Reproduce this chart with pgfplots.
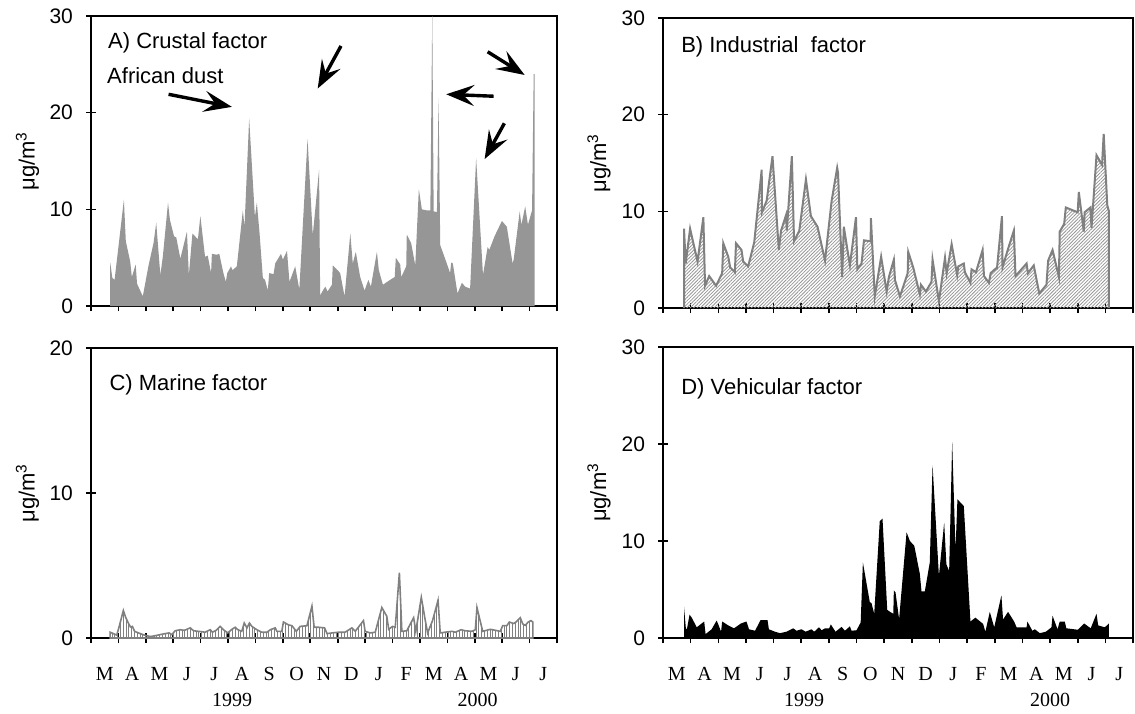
\documentclass[border=0pt]{standalone}
\usepackage{fontspec}
\setmainfont{Liberation Sans}
\newfontfamily\timesf{Liberation Serif}
\usepackage{pgfplots}
\pgfplotsset{compat=1.18}
\usetikzlibrary{arrows.meta,patterns.meta}
\definecolor{afill}{RGB}{150,150,150}
\definecolor{gline}{RGB}{128,128,128}
\definecolor{bhatch}{RGB}{150,150,150}

\tikzset{
  panellab/.style={font=\fontsize{11}{13}\selectfont, anchor=west, inner xsep=0pt},
  dustarrow/.style={line width=1.7pt, -{Stealth[length=14pt,width=10.5pt,inset=5.5pt]}},
  yearlab/.style={font=\timesf\fontsize{10}{12}\selectfont},
}
\pgfplotsset{
  myax/.style={
    scale only axis,
    xmin=0,xmax=17,
    xtick={0,...,17},
    xticklabels={},
    axis line style={line width=0.9pt},
    every tick/.style={line width=0.8pt,black},
    tick align=center,
    major tick length=5pt,
    xtick pos=bottom, ytick pos=left,
    /pgf/number format/assume math mode=true,
    yticklabel style={font=\fontsize{10.5}{12}\selectfont, xshift=-3pt},
    ylabel={μg/m\textsuperscript{3}},
    ylabel style={font=\fontsize{11}{12}\selectfont, at={(axis description cs:-0.136,0.5)}, anchor=center},
    clip mode=individual,
  },
  months/.style={
    extra x ticks={0.5,1.5,...,16.5},
    extra x tick labels={M,A,M,J,J,A,S,O,N,D,J,F,M,A,M,J,J},
    extra x tick style={major tick length=0pt, tick label style={font=\timesf\fontsize{10}{12}\selectfont, yshift=-11pt}},
  },
}

\begin{document}
\begin{tikzpicture}
\useasboundingbox (0,0) rectangle (567.5pt,-356.5pt);

% ---------------- A ----------------
\begin{axis}[myax, at={(45.5pt,-8pt)}, anchor=north west, width=233pt, height=145pt,
  ymin=0, ymax=30, ytick={0,10,20,30}]
\addplot[fill=afill, draw=none] coordinates {
(0.70,4.5)(0.78,2.9)(0.86,2.7)(1.00,6.1)(1.20,11.0)(1.27,6.7)(1.43,4.6)(1.49,3.0)(1.63,4.3)(1.68,2.3)(1.89,1.0)(2.10,4.2)(2.28,6.5)(2.38,8.6)(2.53,3.2)(2.62,5.1)(2.81,10.7)(2.88,8.9)(3.03,7.2)(3.11,7.1)(3.26,4.9)(3.50,7.7)(3.57,3.2)(3.70,7.5)(3.90,6.9)(3.99,9.3)(4.16,5.1)(4.26,5.2)(4.38,3.4)(4.41,5.4)(4.58,5.3)(4.68,5.4)(4.83,3.4)(4.92,2.5)(4.97,3.4)(5.11,4.1)(5.16,3.7)(5.32,4.1)(5.54,9.9)(5.60,8.2)(5.77,19.4)(5.98,9.2)(6.05,10.7)(6.15,7.5)(6.27,2.9)(6.35,2.7)(6.45,1.6)(6.50,3.4)(6.66,3.3)(6.72,4.4)(6.93,5.4)(7.00,4.8)(7.15,5.7)(7.24,2.5)(7.45,4.1)(7.60,1.7)(7.90,17.3)(8.09,7.3)(8.32,14.1)(8.36,1.1)(8.48,1.7)(8.55,2.0)(8.63,1.5)(8.79,2.2)(8.82,4.2)(9.03,3.6)(9.09,3.4)(9.25,1.0)(9.46,7.5)(9.55,4.4)(9.66,5.6)(9.82,3.0)(9.98,1.6)(10.12,2.7)(10.21,2.0)(10.43,5.6)(10.50,3.7)(10.65,2.2)(10.91,2.7)(11.08,3.0)(11.12,5.0)(11.28,4.3)(11.32,3.0)(11.50,4.1)(11.52,7.4)(11.68,6.5)(11.83,4.2)(11.96,12.1)(12.07,10.0)(12.23,9.9)(12.38,9.9)(12.45,30.5)(12.50,9.8)(12.62,9.7)(12.68,21.5)(12.74,6.3)(12.98,4.4)(13.10,3.4)(13.14,4.5)(13.20,4.4)(13.37,1.3)(13.53,2.4)(13.65,2.0)(13.83,1.8)(14.05,15.3)(14.30,3.2)(14.47,6.1)(14.53,5.8)(14.72,7.2)(14.99,8.8)(15.17,8.2)(15.38,4.4)(15.42,4.8)(15.64,9.8)(15.70,8.4)(15.84,10.3)(15.94,8.4)(16.09,9.9)(16.15,24.0)(16.18,24.0)
} \closedcycle;
\node[panellab] at (axis description cs:0.036,0.907) {A) Crustal factor};
\node[panellab] at (axis description cs:0.034,0.793) {African dust};
\draw[dustarrow] (axis cs:2.83,21.9) -- (axis cs:5.14,20.6);
\draw[dustarrow] (axis cs:9.12,26.9) -- (axis cs:8.27,22.5);
\draw[dustarrow] (axis cs:14.69,21.7) -- (axis cs:12.96,21.9);
\draw[dustarrow] (axis cs:14.47,26.3) -- (axis cs:15.82,23.9);
\draw[dustarrow] (axis cs:15.08,18.9) -- (axis cs:14.36,15.2);
\end{axis}

% ---------------- B ----------------
\begin{axis}[myax, at={(331.5pt,-9pt)}, anchor=north west, width=235pt, height=145pt,
  ymin=0, ymax=30, ytick={0,10,20,30}]
\addplot[draw=none, pattern={Lines[angle=45,distance=1.2pt,line width=0.4pt]}, pattern color=bhatch] coordinates {
(0.76,8.2)(0.82,4.6)(0.98,8.2)(1.25,4.8)(1.46,9.4)(1.52,2.3)(1.67,3.3)(1.92,2.3)(2.14,3.6)(2.18,6.7)(2.36,5.3)(2.43,4.2)(2.60,3.7)(2.64,6.7)(2.84,6.0)(2.90,4.8)(3.08,4.3)(3.30,6.8)(3.57,14.3)(3.58,9.9)(3.75,11.1)(3.96,15.7)(4.19,6.0)(4.27,8.0)(4.45,9.6)(4.48,8.0)(4.66,15.7)(4.74,6.9)(4.93,8.0)(5.17,13.3)(5.35,9.5)(5.59,8.4)(5.86,4.9)(6.10,11.1)(6.30,14.5)(6.33,14.0)(6.48,3.2)(6.54,8.4)(6.76,4.4)(6.98,9.4)(7.03,4.0)(7.18,4.6)(7.27,7.0)(7.51,6.9)(7.52,9.3)(7.66,1.2)(7.89,5.3)(8.09,1.7)(8.17,3.2)(8.35,5.0)(8.39,2.9)(8.57,1.2)(8.85,3.6)(8.87,5.8)(9.05,4.2)(9.29,1.4)(9.33,2.4)(9.51,1.7)(9.71,2.7)(9.75,5.0)(9.98,0.7)(10.20,5.2)(10.26,3.6)(10.44,6.6)(10.64,3.4)(10.68,4.3)(10.88,4.6)(10.92,3.7)(11.12,2.6)(11.16,4.0)(11.32,3.7)(11.56,6.0)(11.61,3.3)(11.79,2.6)(11.85,3.6)(12.04,4.1)(12.08,4.1)(12.26,9.5)(12.28,4.2)(12.49,6.2)(12.69,8.0)(12.75,3.3)(13.15,4.6)(13.20,3.6)(13.41,4.4)(13.61,1.5)(13.87,2.4)(13.93,4.9)(14.09,6.0)(14.32,3.2)(14.35,7.9)(14.51,8.7)(14.57,10.4)(15.00,9.9)(15.04,12.0)(15.22,7.9)(15.25,9.9)(15.46,10.4)(15.50,8.3)(15.68,15.8)(15.88,14.8)(15.94,18.0)(16.07,10.6)(16.13,10.0)
} \closedcycle;
\addplot[draw=gline, line width=1pt] coordinates {
(0.76,0)(0.76,8.2)(0.82,4.6)(0.98,8.2)(1.25,4.8)(1.46,9.4)(1.52,2.3)(1.67,3.3)(1.92,2.3)(2.14,3.6)(2.18,6.7)(2.36,5.3)(2.43,4.2)(2.60,3.7)(2.64,6.7)(2.84,6.0)(2.90,4.8)(3.08,4.3)(3.30,6.8)(3.57,14.3)(3.58,9.9)(3.75,11.1)(3.96,15.7)(4.19,6.0)(4.27,8.0)(4.45,9.6)(4.48,8.0)(4.66,15.7)(4.74,6.9)(4.93,8.0)(5.17,13.3)(5.35,9.5)(5.59,8.4)(5.86,4.9)(6.10,11.1)(6.30,14.5)(6.33,14.0)(6.48,3.2)(6.54,8.4)(6.76,4.4)(6.98,9.4)(7.03,4.0)(7.18,4.6)(7.27,7.0)(7.51,6.9)(7.52,9.3)(7.66,1.2)(7.89,5.3)(8.09,1.7)(8.17,3.2)(8.35,5.0)(8.39,2.9)(8.57,1.2)(8.85,3.6)(8.87,5.8)(9.05,4.2)(9.29,1.4)(9.33,2.4)(9.51,1.7)(9.71,2.7)(9.75,5.0)(9.98,0.7)(10.20,5.2)(10.26,3.6)(10.44,6.6)(10.64,3.4)(10.68,4.3)(10.88,4.6)(10.92,3.7)(11.12,2.6)(11.16,4.0)(11.32,3.7)(11.56,6.0)(11.61,3.3)(11.79,2.6)(11.85,3.6)(12.04,4.1)(12.08,4.1)(12.26,9.5)(12.28,4.2)(12.49,6.2)(12.69,8.0)(12.75,3.3)(13.15,4.6)(13.20,3.6)(13.41,4.4)(13.61,1.5)(13.87,2.4)(13.93,4.9)(14.09,6.0)(14.32,3.2)(14.35,7.9)(14.51,8.7)(14.57,10.4)(15.00,9.9)(15.04,12.0)(15.22,7.9)(15.25,9.9)(15.46,10.4)(15.50,8.3)(15.68,15.8)(15.88,14.8)(15.94,18.0)(16.07,10.6)(16.13,10.0)(16.13,0)
};
\node[panellab] at (axis description cs:0.038,0.90) {B) Industrial\ \ factor};
\end{axis}

% ---------------- C ----------------
\begin{axis}[myax, months, at={(45.5pt,-174pt)}, anchor=north west, width=233pt, height=145pt,
  ymin=0, ymax=20, ytick={0,10,20}]
\addplot[draw=gline, line width=0.8pt, pattern={Lines[angle=90,distance=1.4pt,line width=0.5pt]}, pattern color=gline] coordinates {
(0.70,0.4)(0.82,0.3)(0.94,0.2)(1.03,0.8)(1.18,1.9)(1.27,1.4)(1.37,1.0)(1.44,0.76)(1.51,0.8)(1.59,0.46)(1.73,0.35)(1.95,0.2)(2.16,0.1)(2.34,0.16)(2.64,0.28)(2.85,0.35)(2.95,0.23)(3.07,0.5)(3.25,0.57)(3.41,0.53)(3.62,0.7)(3.74,0.5)(3.92,0.46)(4.16,0.4)(4.35,0.57)(4.43,0.4)(4.57,0.53)(4.71,0.8)(4.83,0.57)(4.99,0.35)(5.14,0.6)(5.26,0.74)(5.36,0.57)(5.50,0.46)(5.59,1.03)(5.69,0.7)(5.78,1.03)(5.87,0.8)(6.05,0.57)(6.23,0.4)(6.42,0.4)(6.54,0.57)(6.72,0.7)(6.78,0.46)(6.96,0.46)(7.02,1.1)(7.21,0.9)(7.33,0.85)(7.49,0.46)(7.63,0.8)(7.88,0.85)(8.06,2.2)(8.14,0.74)(8.30,0.74)(8.52,0.7)(8.61,0.3)(8.79,0.35)(9.03,0.4)(9.27,0.4)(9.52,0.7)(9.64,0.46)(9.94,1.2)(10.00,0.46)(10.19,0.35)(10.37,0.4)(10.61,2.1)(10.79,1.5)(10.86,0.6)(11.00,0.8)(11.10,0.74)(11.25,4.5)(11.34,0.46)(11.52,0.5)(11.77,1.4)(11.85,0.46)(12.05,2.8)(12.19,1.26)(12.28,0.35)(12.46,1.2)(12.66,2.6)(12.74,0.35)(12.92,0.4)(13.17,0.46)(13.29,0.4)(13.50,0.57)(13.65,0.5)(13.90,0.46)(14.02,0.57)(14.08,2.1)(14.29,0.46)(14.57,0.6)(14.93,0.46)(15.02,0.85)(15.17,0.85)(15.26,1.1)(15.42,1.0)(15.50,1.1)(15.66,1.4)(15.75,0.97)(15.84,0.87)(15.95,1.1)(16.05,1.2)(16.12,1.1)
} \closedcycle;
\node[panellab] at (axis description cs:0.039,0.872) {C) Marine factor};
\node[yearlab] at (axis cs:5.15,0) [yshift=-30.8pt] {1999};
\node[yearlab] at (axis cs:14.1,0) [yshift=-30.8pt] {2000};
\end{axis}

% ---------------- D ----------------
\begin{axis}[myax, months, at={(331.5pt,-173.5pt)}, anchor=north west, width=235pt, height=145.5pt,
  ymin=0, ymax=30, ytick={0,10,20,30}]
\addplot[fill=black, draw=none] coordinates {
(0.76,3.2)(0.83,0.9)(0.87,1.0)(0.96,2.4)(1.04,2.1)(1.22,1.1)(1.49,1.7)(1.54,0.4)(1.76,0.9)(1.94,1.8)(2.00,1.4)(2.10,0.65)(2.14,1.7)(2.36,1.3)(2.57,1.0)(2.82,1.5)(3.02,1.7)(3.11,0.9)(3.33,0.75)(3.53,1.85)(3.78,1.85)(3.83,0.9)(4.05,0.65)(4.23,0.5)(4.47,0.65)(4.71,1.0)(4.83,0.75)(5.01,0.9)(5.16,0.65)(5.37,0.9)(5.47,0.65)(5.64,1.1)(5.74,0.8)(5.86,1.0)(6.01,1.0)(6.07,1.4)(6.24,0.65)(6.46,1.15)(6.58,0.75)(6.76,1.2)(6.82,0.75)(7.00,0.8)(7.15,1.6)(7.23,7.8)(7.48,3.7)(7.54,3.6)(7.64,2.5)(7.84,12.05)(7.94,12.3)(8.11,2.9)(8.21,2.7)(8.33,2.5)(8.35,4.9)(8.41,4.7)(8.54,1.95)(8.81,10.9)(8.93,10.0)(9.09,9.5)(9.29,6.6)(9.35,4.8)(9.47,4.8)(9.65,7.8)(9.75,17.8)(9.98,6.4)(10.17,11.9)(10.25,7.6)(10.35,6.9)(10.46,20.2)(10.58,9.1)(10.65,14.3)(10.88,13.6)(11.12,1.7)(11.30,2.1)(11.58,1.45)(11.66,0.65)(11.82,2.7)(11.98,1.1)(12.24,4.4)(12.30,1.9)(12.48,2.7)(12.70,1.7)(12.79,1.1)(13.15,1.1)(13.18,1.7)(13.36,0.75)(13.45,0.9)(13.63,0.5)(13.85,0.65)(14.05,1.1)(14.09,2.3)(14.27,0.9)(14.35,1.7)(14.53,1.7)(14.59,1.0)(15.01,0.85)(15.23,1.5)(15.47,1.0)(15.68,2.5)(15.74,1.3)(15.98,1.1)(16.13,1.5)
} \closedcycle;
\node[panellab] at (axis description cs:0.038,0.856) {D) Vehicular factor};
\node[yearlab] at (axis cs:5.1,0) [yshift=-30.8pt] {1999};
\node[yearlab] at (axis cs:14.0,0) [yshift=-30.8pt] {2000};
\end{axis}
\end{tikzpicture}
\end{document}
